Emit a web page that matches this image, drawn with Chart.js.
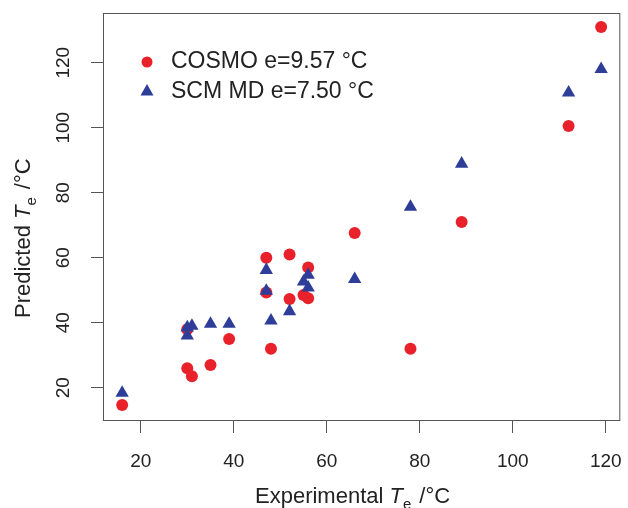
<!DOCTYPE html>
<html>
<head>
<meta charset="utf-8">
<script src="https://cdn.jsdelivr.net/npm/chart.js@4/dist/chart.umd.min.js"></script>
<style>
  html, body { margin: 0; padding: 0; background: #fff; }
  canvas { display: block; }
</style>
</head>
<body>
<canvas id="te-canvas" width="628" height="508"></canvas>
<script>
// Valores
const cosmoExp  = [119, 112, 89, 66, 47, 52, 56, 47, 52, 55, 56, 39, 48, 78, 35, 30, 31, 16, 30];
const cosmoPred = [131, 100.5, 71, 67.6, 60, 61, 57, 49.3, 47.3, 48.5, 47.5, 35, 32, 32, 27, 26, 23.5, 14.7, 38];
const scmExp    = [119, 112, 89, 78, 66, 47, 47, 56, 55, 56, 52, 48, 39, 35, 31, 30, 30, 16];
const scmPred   = [118, 110.8, 88.9, 75.6, 53.4, 56.2, 49.8, 54.7, 52.6, 50.8, 43.5, 40.6, 39.6, 39.6, 39, 38.5, 36, 18.4];
const xTicks = [20, 40, 60, 80, 100, 120];
const yTicks = [20, 40, 60, 80, 100, 120];
const seriesNames = ['COSMO e=9.57 °C', 'SCM MD e=7.50 °C'];

const RED = '#e8212b';
const BLUE = '#2d3d98';
const TXT = '#222';
const FONT = '"Liberation Sans", Arial, Helvetica, sans-serif';

const toPoints = (xs, ys) => xs.map((x, i) => ({ x: x, y: ys[i] }));

// texto com T itálico e índice "e"
function drawTeLabel(ctx, prefix, x, base) {
    ctx.font = '22px ' + FONT;
    ctx.fillText(prefix, x, base);
    x += ctx.measureText(prefix).width;
    ctx.font = 'italic 22px ' + FONT;
    ctx.fillText('T', x, base);
    x += ctx.measureText('T').width;
    ctx.font = '15px ' + FONT;
    ctx.fillText('e', x, base + 6);
    x += ctx.measureText('e').width + 8;
    ctx.font = '22px ' + FONT;
    ctx.fillText('/\u00B0C', x, base);
}

// desenha caixa, rótulos do eixo y, títulos e legenda
const extras = {
    id: 'extras',
    afterDraw(chart) {
        const ctx = chart.ctx;
        const a = chart.chartArea;
        const ys = chart.scales.y;
        ctx.save();
        ctx.strokeStyle = '#555';
        ctx.lineWidth = 1;
        ctx.strokeRect(a.left + 0.5, a.top + 0.5, a.right - a.left - 1, a.bottom - a.top - 1);

        ctx.fillStyle = TXT;
        ctx.font = '19px ' + FONT;
        ctx.textAlign = 'center';
        ctx.textBaseline = 'middle';
        yTicks.forEach(v => {
            ctx.save();
            ctx.translate(63, ys.getPixelForValue(v));
            ctx.rotate(-Math.PI / 2);
            ctx.fillText(String(v), 0, 1);
            ctx.restore();
        });

        ctx.textAlign = 'left';
        ctx.textBaseline = 'alphabetic';
        drawTeLabel(ctx, 'Experimental ', 255, 503);

        ctx.save();
        ctx.translate(30, 318);
        ctx.rotate(-Math.PI / 2);
        drawTeLabel(ctx, 'Predicted ', 0, 0);
        ctx.restore();

        // legenda
        ctx.font = '23px ' + FONT;
        ctx.textBaseline = 'middle';
        ctx.fillStyle = RED;
        ctx.beginPath();
        ctx.arc(147, 62, 5.5, 0, Math.PI * 2);
        ctx.fill();
        ctx.fillStyle = BLUE;
        ctx.beginPath();
        ctx.moveTo(147, 84);
        ctx.lineTo(153.5, 95.5);
        ctx.lineTo(140.5, 95.5);
        ctx.closePath();
        ctx.fill();
        ctx.fillStyle = TXT;
        ctx.fillText(seriesNames[0], 171, 62);
        ctx.fillText(seriesNames[1], 171, 92);
        ctx.restore();
    }
};

const config = {
    type: 'scatter',
    data: {
        datasets: [{
            label: seriesNames[0],
            data: toPoints(cosmoExp, cosmoPred),
            pointStyle: 'circle',
            pointRadius: 6,
            backgroundColor: RED,
            borderWidth: 0,
            order: 2
        }, {
            label: seriesNames[1],
            data: toPoints(scmExp, scmPred),
            pointStyle: 'triangle',
            pointRadius: 7.7,
            backgroundColor: BLUE,
            borderWidth: 0,
            order: 1
        }]
    },
    options: {
        responsive: false,
        animation: false,
        layout: { padding: { top: 13, right: 7, left: 0, bottom: 0 } },
        plugins: {
            legend: { display: false },
            tooltip: { enabled: false }
        },
        scales: {
            x: {
                type: 'linear',
                min: 11.88,
                max: 123.12,
                afterBuildTicks: s => { s.ticks = xTicks.map(v => ({ value: v })); },
                afterFit: s => { s.height = 87; s.paddingLeft = 0; s.paddingRight = 0; },
                border: { display: false },
                grid: { drawOnChartArea: false, tickLength: 12, color: '#555' },
                ticks: { color: TXT, font: { family: FONT, size: 19 }, padding: 17, maxRotation: 0 }
            },
            y: {
                type: 'linear',
                min: 9.75,
                max: 135.3,
                afterBuildTicks: s => { s.ticks = yTicks.map(v => ({ value: v })); },
                afterFit: s => { s.width = 103; s.paddingTop = 0; s.paddingBottom = 0; },
                border: { display: false },
                grid: { drawOnChartArea: false, tickLength: 12, color: '#555' },
                ticks: { display: false }
            }
        }
    },
    plugins: [extras]
};

window.onload = function() {
    const ctx = document.getElementById('te-canvas').getContext('2d');
    new Chart(ctx, config);
};
</script>
</body>
</html>
